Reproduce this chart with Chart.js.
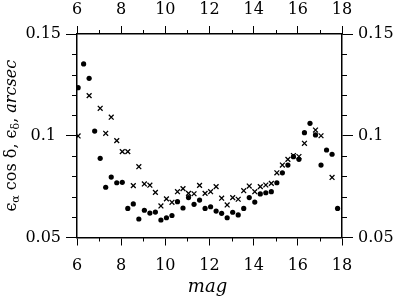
<!DOCTYPE html>
<html>
<head>
<meta charset="utf-8">
<script src="https://cdn.jsdelivr.net/npm/chart.js@4"></script>
<style>
html,body{margin:0;padding:0;background:#fff;}
canvas{display:block;}
</style>
</head>
<body>
<canvas id="c" width="393" height="299"></canvas>
<script>
// Data
const dotMag = [6.05,6.3,6.55,6.8,7.05,7.3,7.55,7.8,8.05,8.3,8.55,8.8,9.05,9.3,9.55,9.8,10.05,10.3,10.55,10.8,11.05,11.3,11.55,11.8,12.05,12.3,12.55,12.8,13.05,13.3,13.55,13.8,14.05,14.3,14.55,14.8,15.05,15.3,15.55,15.8,16.05,16.3,16.55,16.8,17.05,17.3,17.55,17.8];
const dotErr = [0.1236,0.1353,0.1282,0.1023,0.0889,0.0747,0.0797,0.0769,0.0771,0.0643,0.0665,0.0591,0.0634,0.0620,0.0625,0.0586,0.0597,0.0608,0.0676,0.0645,0.0696,0.0663,0.0684,0.0643,0.0651,0.0630,0.0619,0.0597,0.0624,0.0611,0.0643,0.0696,0.0674,0.0714,0.0720,0.0725,0.0769,0.0818,0.0856,0.0897,0.0884,0.1015,0.1061,0.1004,0.0856,0.0930,0.0909,0.0643];
const crossMag = [6.05,6.55,7.05,7.3,7.55,7.8,8.05,8.3,8.55,8.8,9.05,9.3,9.55,9.8,10.05,10.3,10.55,10.8,11.05,11.3,11.55,11.8,12.05,12.3,12.55,12.8,13.05,13.3,13.55,13.8,14.05,14.3,14.55,14.8,15.05,15.3,15.55,15.8,16.05,16.3,16.8,17.05,17.55];
const crossErr = [0.0999,0.1197,0.1135,0.1012,0.1091,0.0976,0.0922,0.0922,0.0755,0.0848,0.0763,0.0757,0.0722,0.0655,0.0690,0.0673,0.0725,0.0740,0.0717,0.0715,0.0756,0.0717,0.0725,0.0750,0.0693,0.0660,0.0696,0.0688,0.0730,0.0753,0.0725,0.0750,0.0758,0.0766,0.0818,0.0856,0.0884,0.0903,0.0898,0.0963,0.1028,0.1000,0.0795];
const xMin = 6, xMax = 18, xStep = 2, xMinorStep = 1;
const yMin = 0.05, yMax = 0.15, yStep = 0.05, yMinorStep = 0.01;
const xTitle = 'mag';

const FONT = 'DejaVu Serif';
const tickFont = {family: FONT, size: 16};

function fmtY(v){ return String(Math.round(v*100)/100); }

const minorTicks = {
  id: 'minorTicks',
  afterDraw(chart){
    const ctx = chart.ctx;
    ctx.save();
    ctx.strokeStyle = '#000';
    ctx.lineWidth = 1;
    const xs = chart.scales.x, xt = chart.scales.x2, yl = chart.scales.y, yr = chart.scales.y2;
    const ca = chart.chartArea;
    ctx.beginPath();
    for (let v = xMin + xMinorStep; v < xMax; v += xMinorStep) {
      if (Math.abs((v - xMin) % xStep) < 1e-9) continue;
      const px = Math.round(xs.getPixelForValue(v)) + 0.5;
      ctx.moveTo(px, ca.bottom); ctx.lineTo(px, ca.bottom + 4);
      ctx.moveTo(px, ca.top); ctx.lineTo(px, ca.top - 4);
    }
    for (let i = 1; i < Math.round((yMax - yMin)/yMinorStep); i++) {
      const v = yMin + i*yMinorStep;
      if (i % Math.round(yStep/yMinorStep) === 0) continue;
      const py = Math.round(yl.getPixelForValue(v)) + 0.5;
      ctx.moveTo(ca.left, py); ctx.lineTo(ca.left - 5, py);
      ctx.moveTo(ca.right, py); ctx.lineTo(ca.right + 5, py);
    }
    ctx.stroke();

    // x title
    ctx.fillStyle = '#000';
    ctx.font = 'italic 18px "' + FONT + '"';
    ctx.textAlign = 'center';
    ctx.textBaseline = 'alphabetic';
    ctx.fillText(xTitle, (ca.left + ca.right)/2 - 2, 292);

    // y title with subscripts
    const parts = [
      {t:'\u03F5', f:'16px "'+FONT+'"', dy:0},
      {t:'\u03B1', f:'11px "'+FONT+'"', dy:3},
      {t:' cos \u03B4, ', f:'16px "'+FONT+'"', dy:0},
      {t:'\u03F5', f:'16px "'+FONT+'"', dy:0},
      {t:'\u03B4', f:'11px "'+FONT+'"', dy:3},
      {t:', ', f:'16px "'+FONT+'"', dy:0},
      {t:'arcsec', f:'italic 16px "'+FONT+'"', dy:0}
    ];
    let total = 0;
    parts.forEach(p => { ctx.font = p.f; p.w = ctx.measureText(p.t).width; total += p.w; });
    ctx.translate(16, (ca.top + ca.bottom)/2);
    ctx.rotate(-Math.PI/2);
    ctx.textAlign = 'left';
    let x = -total/2;
    parts.forEach(p => { ctx.font = p.f; ctx.fillText(p.t, x, p.dy); x += p.w; });
    ctx.restore();
  }
};

function xAxis(pos, size, pad){
  return {
    type: 'linear', position: pos, min: xMin, max: xMax,
    afterFit: s => { s.height = size; },
    ticks: {stepSize: xStep, color: '#000', font: tickFont, padding: pad, maxRotation: 0},
    grid: {display: true, drawOnChartArea: false, drawTicks: true, tickLength: 8, color: '#000', lineWidth: 1},
    border: {display: true, color: '#000', width: 1.5}
  };
}
function yAxis(pos, size, align){
  return {
    type: 'linear', position: pos, min: yMin, max: yMax,
    afterFit: s => { s.width = size; },
    ticks: {stepSize: yStep, color: '#000', font: tickFont, padding: 5, crossAlign: align, callback: v => fmtY(v)},
    grid: {display: true, drawOnChartArea: false, drawTicks: true, tickLength: 11, color: '#000', lineWidth: 1},
    border: {display: true, color: '#000', width: 1.5}
  };
}

new Chart(document.getElementById('c'), {
  type: 'scatter',
  data: {
    datasets: [
      {
        label: 'dots',
        data: dotMag.map((m,i) => ({x: m, y: dotErr[i]})),
        pointStyle: 'circle', pointRadius: 2.6,
        backgroundColor: '#000', borderColor: '#000', borderWidth: 0,
        xAxisID: 'x', yAxisID: 'y'
      },
      {
        label: 'crosses',
        data: crossMag.map((m,i) => ({x: m, y: crossErr[i]})),
        pointStyle: 'crossRot', pointRadius: 3.4,
        backgroundColor: '#000', borderColor: '#000', borderWidth: 1.3,
        xAxisID: 'x', yAxisID: 'y'
      }
    ]
  },
  options: {
    responsive: false, animation: false, devicePixelRatio: 1,
    layout: {padding: 0},
    plugins: {legend: {display: false}, tooltip: {enabled: false}},
    scales: {
      x: xAxis('bottom', 61.5, 11),
      x2: xAxis('top', 34, 7),
      y: yAxis('left', 77, 'center'),
      y2: yAxis('right', 51, 'near')
    }
  },
  plugins: [minorTicks]
});
</script>
</body>
</html>
